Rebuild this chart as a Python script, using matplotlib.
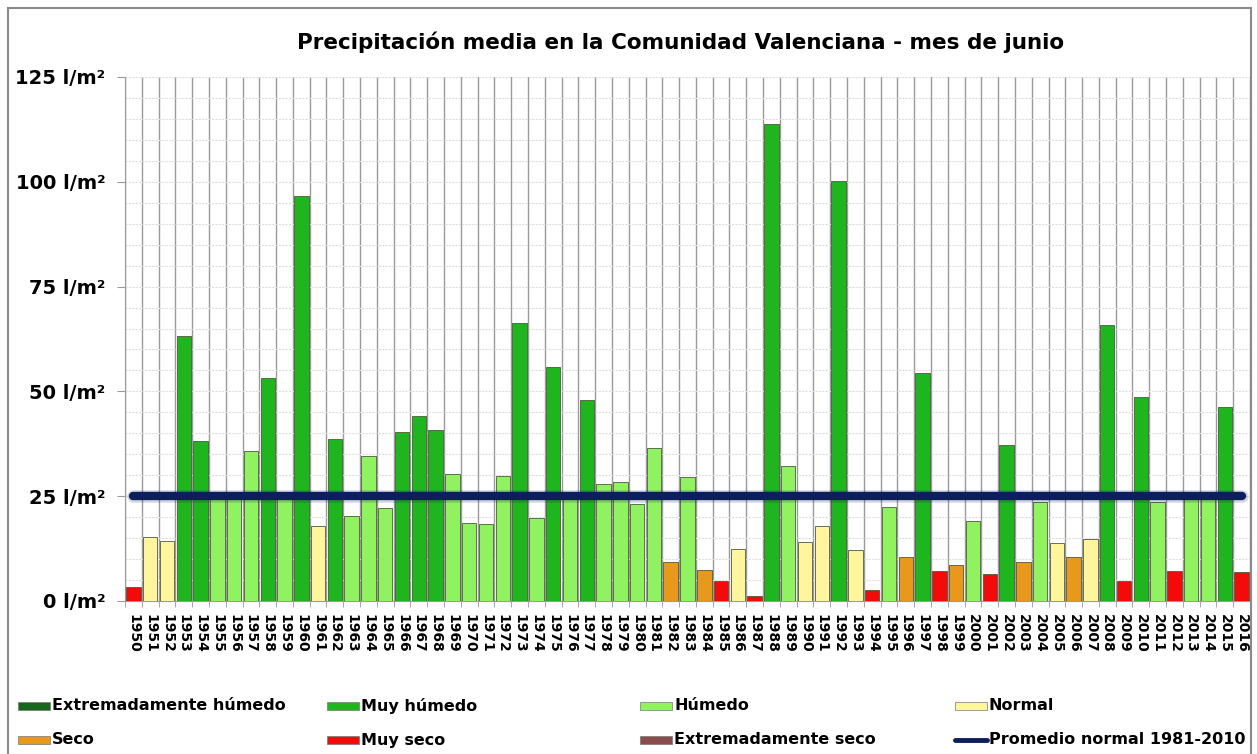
import matplotlib.pyplot as plt
import numpy as np
from matplotlib.patches import Rectangle
from matplotlib.lines import Line2D

years = list(range(1950, 2017))
precip = [3.4, 15.2, 14.3, 63.2, 38.1, 25.8, 24.8, 35.8, 53.2, 24.8,
          96.5, 17.8, 38.6, 20.3, 34.7, 22.2, 40.3, 44.1, 40.8, 30.3,
          18.7, 18.4, 29.9, 66.4, 19.9, 55.8, 24.8, 47.9, 27.8, 28.4,
          23.1, 36.5, 9.3, 29.5, 7.4, 4.8, 12.5, 1.3, 113.9, 32.2,
          14.0, 17.8, 100.1, 12.1, 2.7, 22.5, 10.6, 54.5, 7.2, 8.7,
          19.1, 6.4, 37.3, 9.3, 23.5, 13.8, 10.6, 14.8, 65.8, 4.7,
          48.6, 23.7, 7.2, 24.8, 24.8, 46.3, 7.0]
# EH extremadamente humedo, MH muy humedo, H humedo, N normal,
# S seco, MS muy seco, ES extremadamente seco
category = ["MS", "N", "N", "MH", "MH", "H", "H", "H", "MH", "H",
            "MH", "N", "MH", "H", "H", "H", "MH", "MH", "MH", "H",
            "H", "H", "H", "MH", "H", "MH", "H", "MH", "H", "H",
            "H", "H", "S", "H", "S", "MS", "N", "MS", "MH", "H",
            "N", "N", "MH", "N", "MS", "H", "S", "MH", "MS", "S",
            "H", "MS", "MH", "S", "H", "N", "S", "N", "MH", "MS",
            "MH", "H", "MS", "H", "H", "MH", "MS"]
normal_mean = 25.0

colors = {"EH": "#17661c", "MH": "#1eb51e", "H": "#90f260", "N": "#fff59c",
          "S": "#e8981a", "MS": "#f50a0a", "ES": "#8a4c4c"}
legend_rows = [
    [("EH", "Extremadamente húmedo"), ("MH", "Muy húmedo"),
     ("H", "Húmedo"), ("N", "Normal")],
    [("S", "Seco"), ("MS", "Muy seco"),
     ("ES", "Extremadamente seco"), (None, "Promedio normal 1981-2010")],
]

W, H = 1257, 754
fig = plt.figure(figsize=(W / 100, H / 100), dpi=100)
fig.patch.set_facecolor("white")

def fx(px):
    return px / W

def fy(py):
    return 1 - py / H

ax = fig.add_axes([fx(125), fy(601), fx(1250) - fx(125), fy(77) - fy(601)])
ax.set_facecolor("none")

x = np.arange(len(years))
assert len(precip) == len(years) == len(category)
ax.bar(x, precip, width=0.86, color=[colors[c] for c in category],
       edgecolor="#4d5a3a", linewidth=0.6, zorder=3)

# promedio normal line with soft halo
ax.plot([x[0], x[-1]], [normal_mean, normal_mean], color="#0c1f5a",
        lw=9, alpha=0.18, solid_capstyle="round", zorder=4)
ax.plot([x[0], x[-1]], [normal_mean, normal_mean], color="#0c1f5a",
        lw=6, solid_capstyle="round", zorder=5)

ax.set_xlim(-0.5, len(years) - 0.5)
ax.set_ylim(0, 125)

ax.set_yticks(np.arange(0, 126, 25))
ax.set_yticklabels([f"{v} l/m²" for v in range(0, 126, 25)],
                   fontsize=14, fontweight="bold")
ax.set_yticks(np.arange(0, 126, 5), minor=True)
ax.tick_params(axis="y", which="major", length=6, color="#999999", pad=8)
ax.tick_params(axis="y", which="minor", length=0)

ax.set_xticks(x)
ax.set_xticklabels([str(y) for y in years], rotation=-90,
                   fontsize=10, fontweight="bold")
ax.set_xticks(np.arange(-0.5, len(years), 1), minor=True)
ax.tick_params(axis="x", which="major", length=0, pad=9)
ax.tick_params(axis="x", which="minor", length=4, color="#999999")

ax.grid(axis="y", which="both", color="#dedede", lw=0.8, ls=(0, (2, 1)), zorder=0)
ax.grid(axis="x", which="minor", color="#9a9a9a", lw=1.0, zorder=1)
ax.grid(axis="x", which="major", visible=False)

for s in ["top", "right"]:
    ax.spines[s].set_visible(False)
ax.spines["left"].set_color("#999999")
ax.spines["bottom"].set_color("#999999")

fig.text(fx(681), fy(42), "Precipitación media en la Comunidad Valenciana - mes de junio",
         ha="center", va="center", fontsize=15.5, fontweight="bold")

# frame
fig.add_artist(Rectangle((fx(8), fy(760)), fx(1251) - fx(8), fy(8) - fy(760),
                         transform=fig.transFigure, fill=False,
                         edgecolor="#8a8a8a", lw=1.5))

# legend
col_x = [18, 327, 640, 955]
row_y = [706, 740]
for r, row in enumerate(legend_rows):
    for c, (key, label) in enumerate(row):
        x0 = col_x[c]
        yc = row_y[r]
        if key is None:
            fig.add_artist(Line2D([fx(x0), fx(x0 + 32)], [fy(yc), fy(yc)],
                                  transform=fig.transFigure, color="#0c1f5a",
                                  lw=3.5, solid_capstyle="round"))
        else:
            fig.add_artist(Rectangle((fx(x0), fy(yc + 4)), fx(32), 8 / H,
                                     transform=fig.transFigure,
                                     facecolor=colors[key],
                                     edgecolor="#777777", lw=0.5))
        fig.text(fx(x0 + 34), fy(yc), label, ha="left", va="center",
                 fontsize=11.5, fontweight="bold")

fig.savefig("out.png", dpi=100)
